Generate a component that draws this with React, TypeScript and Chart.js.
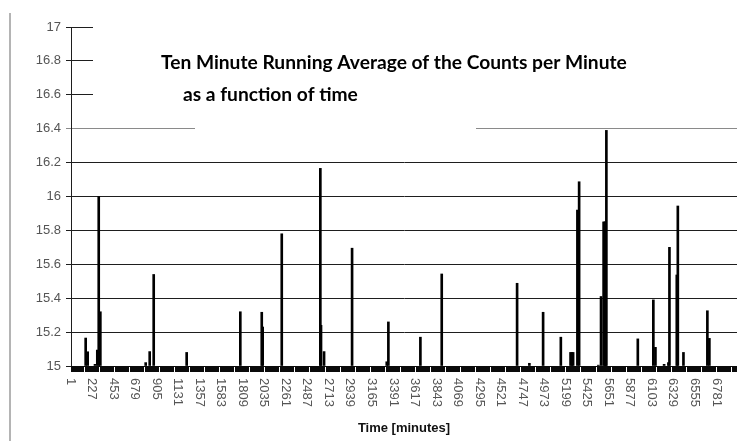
import React, { useEffect, useRef } from 'react';
import { Chart, registerables } from 'chart.js';

Chart.register(...registerables);

const TITLE_LINES = [
  'Ten Minute Running Average of the Counts per Minute',
  'as a function of time',
];
const X_TITLE = 'Time [minutes]';

const X_TICK_LABELS = [
  1, 227, 453, 679, 905, 1131, 1357, 1583, 1809, 2035, 2261, 2487, 2713, 2939, 3165, 3391,
  3617, 3843, 4069, 4295, 4521, 4747, 4973, 5199, 5425, 5651, 5877, 6103, 6329, 6555, 6781,
];

// minute at which each spike of the running average occurs
const SPIKE_MINUTES = [
  154, 175, 252, 276, 291, 308, 784, 826, 868, 1214, 1777, 2002, 2012, 2212, 2617, 2624,
  2656, 2950, 3314, 3331, 3667, 3891, 4682, 4811, 4955, 5141, 5243, 5256, 5270, 5315, 5333,
  5535, 5563, 5590, 5602, 5611, 5619, 5949, 6112, 6134, 6225, 6270, 6281, 6358, 6369, 6428,
  6679, 6700,
];
// running average (counts per minute) at each spike
const SPIKE_VALUES = [
  15.165, 15.084, 15.01, 15.094, 16.0, 15.32, 15.02, 15.085, 15.54, 15.08, 15.32, 15.317,
  15.23, 15.78, 16.166, 15.24, 15.085, 15.695, 15.025, 15.26, 15.17, 15.543, 15.488, 15.016,
  15.317, 15.17, 15.08, 15.08, 15.08, 15.92, 16.087, 15.005, 15.41, 15.85, 15.85, 15.85,
  16.39, 15.16, 15.39, 15.11, 15.01, 15.02, 15.7, 15.537, 15.944, 15.08, 15.326, 15.163,
];

const Y_MIN = 15;
const Y_MAX = 17;
const Y_STEP = 0.2;
const X_MIN = 0;
const X_MAX = 6990;
const MINOR_TICK_START = 133;
const MINOR_TICK_STEP = 158;

const decorPlugin = {
  id: 'decor',
  beforeDraw(chart: any) {
    const ctx = chart.ctx;
    ctx.save();
    ctx.fillStyle = '#ffffff';
    ctx.fillRect(0, 0, chart.width, chart.height);
    ctx.strokeStyle = '#b4b4b4';
    ctx.lineWidth = 2;
    ctx.beginPath();
    ctx.moveTo(10, 13);
    ctx.lineTo(10, chart.height);
    ctx.stroke();
    ctx.restore();
  },
  afterDraw(chart: any) {
    const ctx = chart.ctx;
    const area = chart.chartArea;
    const xs = chart.scales.x;
    ctx.save();
    // title text boxes hide the grid lines behind them
    ctx.fillStyle = '#ffffff';
    ctx.fillRect(93, 0, chart.width - 93, 112);
    ctx.fillRect(195, 112, 281, 34);

    // title
    ctx.fillStyle = '#000000';
    ctx.textBaseline = 'alphabetic';
    ctx.textAlign = 'left';
    ctx.font = 'bold 20px Lato';
    const w = ctx.measureText(TITLE_LINES[0]).width;
    const size = (20 * 466) / w;
    ctx.font = `bold ${size.toFixed(2)}px Lato`;
    ctx.fillText(TITLE_LINES[0], 161, 69);
    ctx.fillText(TITLE_LINES[1], 183, 101);

    // thick baseline band with notches
    const y0 = area.bottom;
    ctx.fillStyle = '#0a0a0a';
    ctx.fillRect(area.left, y0, area.right - area.left, 6);
    ctx.fillStyle = '#ffffff';
    for (let v = MINOR_TICK_START; v < X_MAX; v += MINOR_TICK_STEP) {
      const px = Math.round(xs.getPixelForValue(v));
      ctx.fillRect(px, y0 + 1, 1, 5);
    }

    // rotated category labels
    ctx.fillStyle = '#555555';
    ctx.font = '13px "Liberation Sans"';
    ctx.textAlign = 'left';
    ctx.textBaseline = 'middle';
    for (const v of X_TICK_LABELS) {
      const px = xs.getPixelForValue(v) - 1;
      ctx.save();
      ctx.translate(px, 378);
      ctx.rotate(Math.PI / 2);
      ctx.fillText(String(v), 0, 0);
      ctx.restore();
    }

    // x axis title
    ctx.fillStyle = '#111111';
    ctx.font = 'bold 13px "Liberation Sans"';
    ctx.textAlign = 'center';
    ctx.fillText(X_TITLE, (area.left + area.right) / 2, 428);
    ctx.restore();
  },
};

export default function App() {
  const ref = useRef<HTMLCanvasElement | null>(null);

  useEffect(() => {
    if (!ref.current) return;
    const chart = new Chart(ref.current, {
      type: 'bar',
      data: {
        datasets: [
          {
            data: SPIKE_MINUTES.map((m, i) => ({ x: m, y: SPIKE_VALUES[i] })),
            backgroundColor: '#000000',
            borderWidth: 0,
            barThickness: 2,
            base: Y_MIN,
          } as any,
        ],
      },
      options: {
        responsive: false,
        maintainAspectRatio: false,
        animation: false,
        layout: { padding: { left: 0, top: 27, right: 10, bottom: 75 } },
        plugins: {
          legend: { display: false },
          tooltip: { enabled: false },
          title: { display: false },
        },
        scales: {
          x: {
            type: 'linear',
            min: X_MIN,
            max: X_MAX,
            offset: false,
            display: false,
          },
          y: {
            min: Y_MIN,
            max: Y_MAX,
            ticks: {
              stepSize: Y_STEP,
              color: '#555555',
              padding: 5,
              font: { family: '"Liberation Sans", Arial, sans-serif', size: 13 },
              callback: (v: any) => String(parseFloat(Number(v).toFixed(2))),
            },
            grid: {
              color: (c: any) =>
                Math.abs((c.tick ? c.tick.value : 0) - 16.4) < 1e-6 ? '#8a8a8a' : '#1e1e1e',
              lineWidth: 1,
              tickLength: 5,
            },
            border: { color: '#1e1e1e', width: 1 },
            afterFit: (scale: any) => {
              scale.width = 71;
            },
          },
        },
      } as any,
      plugins: [decorPlugin],
    });
    return () => chart.destroy();
  }, []);

  return (
    <div style={{ position: 'fixed', left: 0, top: 0, width: 747, height: 441, background: '#fff' }}>
      <canvas ref={ref} width={747} height={441} style={{ display: 'block' }} />
    </div>
  );
}
